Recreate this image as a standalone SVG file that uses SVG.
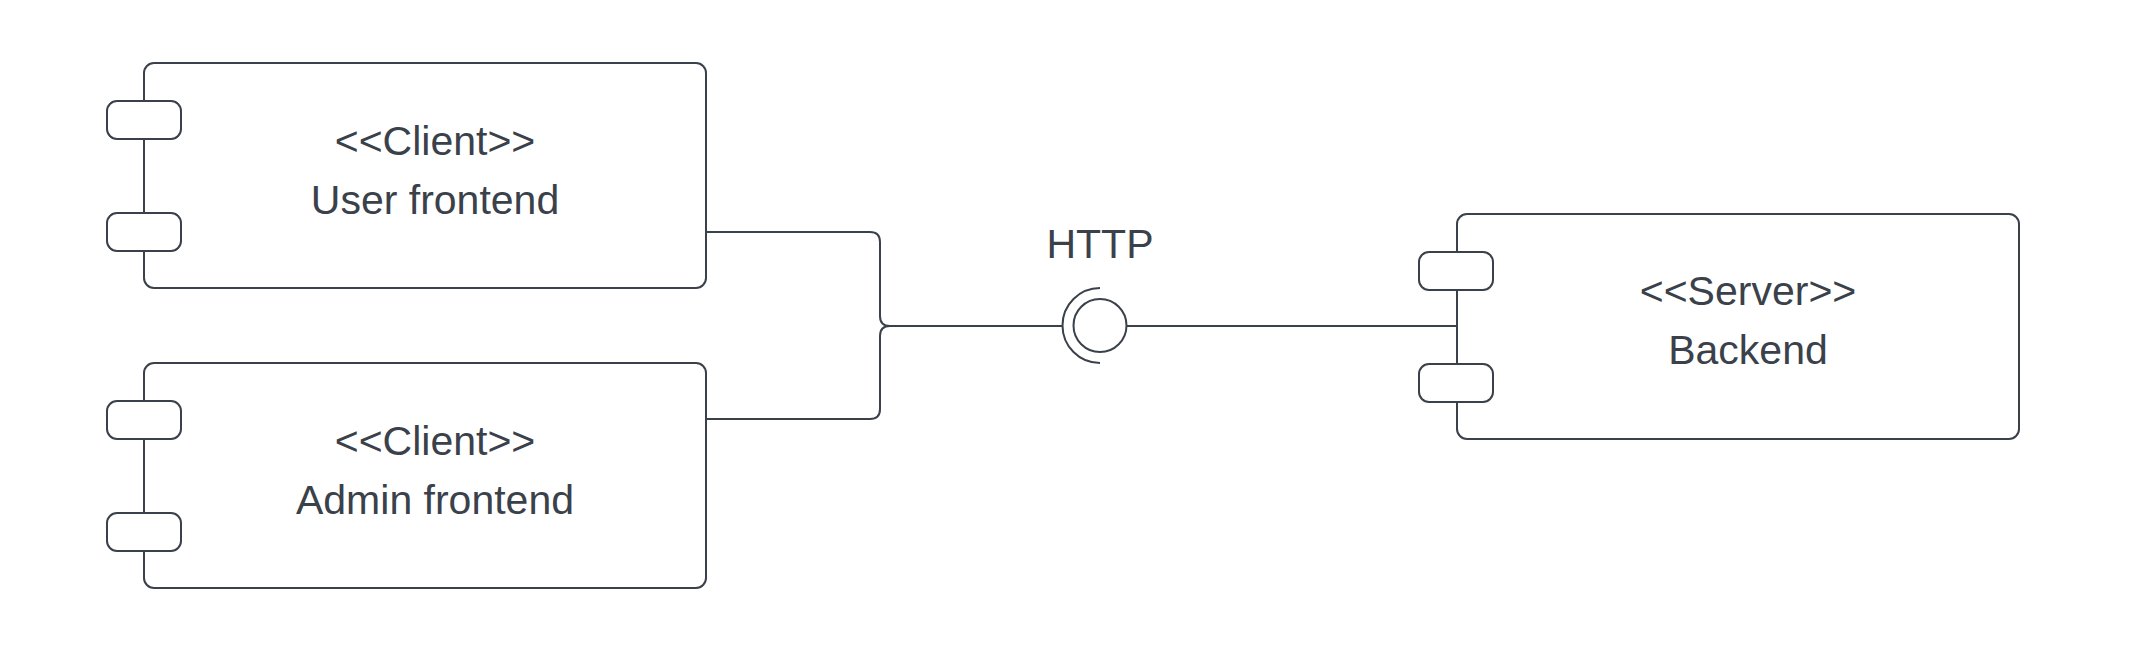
<svg xmlns="http://www.w3.org/2000/svg" width="2149" height="662" viewBox="0 0 2149 662">
<style>
.box{fill:#ffffff;stroke:#3a414a;stroke-width:2}
.port{fill:#ffffff;stroke:#3a414a;stroke-width:2}
.ln{fill:none;stroke:#3a414a;stroke-width:2}
.t{font-family:"Liberation Sans",Arial,sans-serif;font-size:41px;fill:#3a414a;text-anchor:middle}
</style>
<rect width="2149" height="662" fill="#ffffff"/>
<g id="connectors">
<path class="ln" d="M706,232 H870 Q880,232 880,242 V316 Q880,326 890,326 H1062.5"/>
<path class="ln" d="M706,419 H870 Q880,419 880,409 V336 Q880,326 890,326"/>
<path class="ln" d="M1127,326 H1457"/>
</g>
<g id="http-interface">
<path class="ln" d="M1100,288 A37.5,37.5 0 0 0 1100,363"/>
<circle class="ln" cx="1100" cy="325.5" r="26.5"/>
<text class="t" x="1100" y="258">HTTP</text>
</g>
<g id="user-frontend">
<rect class="box" x="144" y="63" width="562" height="225" rx="10"/>
<rect class="port" x="107" y="101" width="74" height="38" rx="10"/>
<rect class="port" x="107" y="213" width="74" height="38" rx="10"/>
<text class="t" x="435" y="155">&lt;&lt;Client&gt;&gt;</text>
<text class="t" x="435" y="214">User frontend</text>
</g>
<g id="admin-frontend">
<rect class="box" x="144" y="363" width="562" height="225" rx="10"/>
<rect class="port" x="107" y="401" width="74" height="38" rx="10"/>
<rect class="port" x="107" y="513" width="74" height="38" rx="10"/>
<text class="t" x="435" y="455">&lt;&lt;Client&gt;&gt;</text>
<text class="t" x="435" y="514">Admin frontend</text>
</g>
<g id="backend">
<rect class="box" x="1457" y="214" width="562" height="225" rx="10"/>
<rect class="port" x="1419" y="252" width="74" height="38" rx="10"/>
<rect class="port" x="1419" y="364" width="74" height="38" rx="10"/>
<text class="t" x="1748" y="305">&lt;&lt;Server&gt;&gt;</text>
<text class="t" x="1748" y="364">Backend</text>
</g>
</svg>
